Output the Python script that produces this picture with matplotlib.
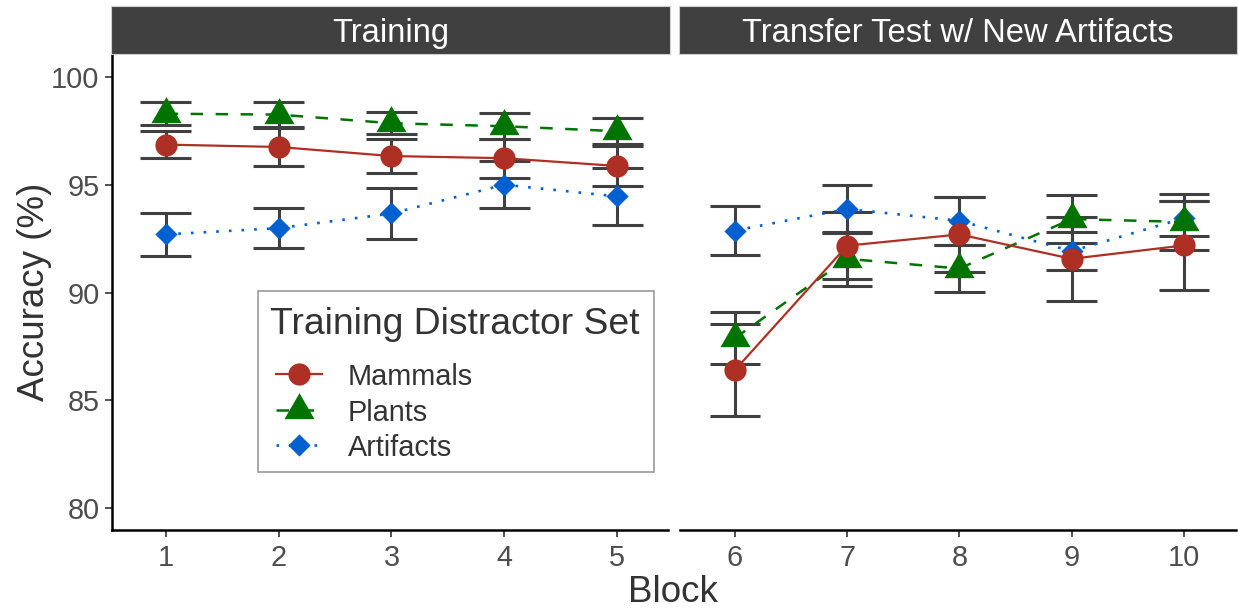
import matplotlib
matplotlib.use("Agg")
import matplotlib.pyplot as plt
from matplotlib.lines import Line2D
from matplotlib.patches import Rectangle

plt.rcParams['font.family'] = ['Liberation Sans', 'DejaVu Sans']

# ---------------- data ----------------
blocks_train = [1, 2, 3, 4, 5]
blocks_test = [6, 7, 8, 9, 10]
series = ["Mammals", "Plants", "Artifacts"]

mammals_train = [96.85, 96.74, 96.32, 96.22, 95.86]
mammals_train_se = [0.64, 0.90, 0.77, 0.90, 0.92]
plants_train = [98.28, 98.24, 97.84, 97.70, 97.47]
plants_train_se = [0.53, 0.57, 0.52, 0.60, 0.60]
artifacts_train = [92.69, 92.98, 93.66, 94.99, 94.45]
artifacts_train_se = [1.00, 0.92, 1.20, 1.08, 1.32]

mammals_test = [86.41, 92.17, 92.69, 91.56, 92.18]
mammals_test_se = [2.14, 1.55, 1.72, 1.94, 2.07]
plants_test = [87.89, 91.56, 91.11, 93.40, 93.27]
plants_test_se = [1.22, 1.24, 1.07, 1.11, 1.29]
artifacts_test = [92.87, 93.87, 93.32, 91.92, 93.44]
artifacts_test_se = [1.12, 1.10, 1.12, 0.88, 0.82]

panel_titles = ["Training", "Transfer Test w/ New Artifacts"]
y_ticks = [80, 85, 90, 95, 100]
legend_title = "Training Distractor Set"

# ---------------- style ----------------
W, H = 1238, 609
fig = plt.figure(figsize=(W / 100, H / 100), dpi=100)

def px_axes(x0, y0, x1, y1, **kw):
    return fig.add_axes([x0 / W, 1 - y1 / H, (x1 - x0) / W, (y1 - y0) / H], **kw)

tri = [(0, 1), (-0.866, -0.5), (0.866, -0.5)]
dia = [(0, 1), (1, 0), (0, -1), (-1, 0)]
styles = {
    "Mammals": dict(color="#AE3024", marker="o", ms=16, ls="-", lw=1.6),
    "Plants": dict(color="#007300", marker=tri, ms=25, ls=(0, (5, 5)), lw=1.8),
    "Artifacts": dict(color="#0060D0", marker=dia, ms=16, ls=(0, (1, 3.8)), lw=1.9),
}
draw_order = ["Artifacts", "Plants", "Mammals"]
err_col = "#404040"
tick_col = "#4D4D4D"
text_col = "#333333"

ax_l = px_axes(112, 55, 668, 530)
ax_r = px_axes(680, 55, 1236, 530)

panels = [
    (ax_l, blocks_train, {"Mammals": (mammals_train, mammals_train_se),
                          "Plants": (plants_train, plants_train_se),
                          "Artifacts": (artifacts_train, artifacts_train_se)}, (0.525, 5.45)),
    (ax_r, blocks_test, {"Mammals": (mammals_test, mammals_test_se),
                         "Plants": (plants_test, plants_test_se),
                         "Artifacts": (artifacts_test, artifacts_test_se)}, (5.51, 10.465)),
]

for ax, xs, data, xl in panels:
    for name in draw_order:
        y, se = data[name]
        ax.errorbar(xs, y, yerr=se, fmt="none", ecolor=err_col, elinewidth=2.2,
                    capsize=0, zorder=2)
        for xi, yi, si in zip(xs, y, se):
            for yy in (yi - si, yi + si):
                ax.plot([xi - 0.225, xi + 0.225], [yy, yy], color=err_col, lw=2.2,
                        solid_capstyle="butt", zorder=2)
    for name in draw_order:
        y, se = data[name]
        st = styles[name]
        ax.plot(xs, y, color=st["color"], ls=st["ls"], lw=st["lw"], zorder=3)
    for name in draw_order:
        y, se = data[name]
        st = styles[name]
        ax.plot(xs, y, ls="none", marker=st["marker"], ms=st["ms"],
                color=st["color"], mec=st["color"], mew=0, zorder=4)
    ax.set_xlim(*xl)
    ax.set_ylim(79, 101)
    ax.set_xticks(xs)
    ax.set_xticklabels([str(v) for v in xs])
    ax.tick_params(axis="x", length=5, width=1.2, color="#333333", labelsize=20.8,
                   labelcolor=tick_col, pad=5)
    for s in ("top", "right"):
        ax.spines[s].set_visible(False)
    ax.spines["bottom"].set_linewidth(1.8)
    ax.spines["left"].set_linewidth(1.8)
    ax.set_facecolor("white")

ax_l.set_yticks(y_ticks)
ax_l.set_yticklabels([str(v) for v in y_ticks])
ax_l.tick_params(axis="y", length=5, width=1.2, color="#333333", labelsize=20.8,
                 labelcolor=tick_col, pad=4)
ax_r.spines["left"].set_visible(False)
ax_r.set_yticks([])

# strips
for (x0, x1), title in zip([(111, 670), (679, 1237)], panel_titles):
    sa = px_axes(x0, 6, x1, 54)
    sa.set_facecolor("#404040")
    sa.set_xticks([])
    sa.set_yticks([])
    for s in sa.spines.values():
        s.set_color("#D0D0D0")
        s.set_linewidth(0.8)
    sa.text(0.5, 0.5, title, color="white", fontsize=23.6, ha="center",
            va="center_baseline", transform=sa.transAxes)

# axis titles
fig.text(673 / W, 1 - 592 / H, "Block", fontsize=26.5, color=text_col, ha="center", va="center")
fig.text(35 / W, 1 - 292 / H, "Accuracy (%)", fontsize=26.5, color=text_col,
         ha="center", va="center", rotation=90)

# legend (drawn in a full-figure overlay axes with pixel coordinates)
lg = px_axes(0, 0, W, H, zorder=10)
lg.set_xlim(0, W)
lg.set_ylim(H, 0)
lg.axis("off")
lg.patch.set_alpha(0)
lg.add_patch(Rectangle((258, 291), 396, 181, facecolor="white", edgecolor="#999999", lw=1.2))
lg.text(270, 321, legend_title, fontsize=26.8, color=text_col, ha="left", va="center_baseline")
entry_y = [374, 410, 445]
for name, yy in zip(series, entry_y):
    st = styles[name]
    lg.add_line(Line2D([276, 322], [yy, yy], color=st["color"], ls=st["ls"], lw=st["lw"]))
    lg.add_line(Line2D([299], [yy], ls="none", marker=st["marker"], ms=st["ms"],
                       color=st["color"], mew=0))
    lg.text(348, yy, name, fontsize=20.8, color=text_col, ha="left", va="center_baseline")

fig.savefig("out.png", dpi=100, facecolor="white")
